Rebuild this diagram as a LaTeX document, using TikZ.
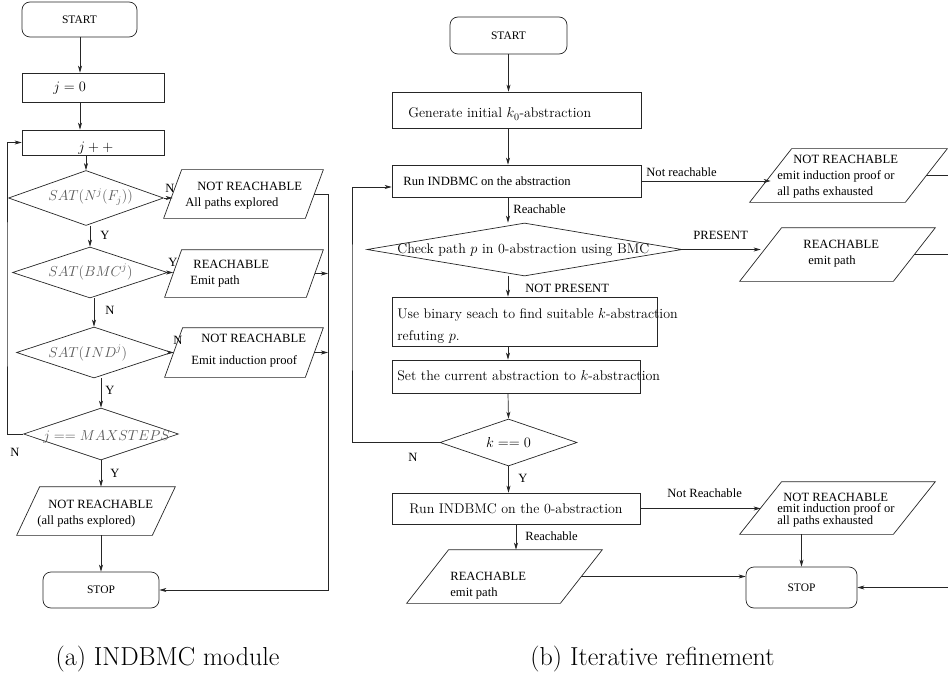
\documentclass[tikz,border=0pt]{standalone}
\usepackage{fontspec}
\newfontfamily\tms{Liberation Serif}
\usetikzlibrary{shapes.geometric,arrows.meta}
\tikzset{
  term/.style={draw, rectangle, rounded corners=8pt, inner sep=0pt, font=\tms\fontsize{11.5}{13}\selectfont},
  proc/.style={draw, rectangle, inner sep=0pt},
  decide/.style={draw, diamond, inner sep=0pt},
  io/.style={rectangle, inner sep=0pt},
  txt/.style={anchor=west, inner sep=0pt, align=left, font=\tms\fontsize{12.6}{16}\selectfont},
  cmt/.style={anchor=west, inner sep=0pt, align=left, font=\fontsize{14}{22}\selectfont},
  mth/.style={anchor=west, inner sep=0pt, text=black!65, font=\fontsize{14.8}{17}\selectfont},
  lbl/.style={inner sep=0pt, font=\tms\fontsize{12.6}{14}\selectfont},
  subcap/.style={inner sep=0pt, font=\fontsize{26}{30}\selectfont}
}
% parallelogram round an io node: name, slant; gives side midpoints name-l and name-r
\newcommand\ioframe[2]{\draw ([xshift=#2]#1.north west) -- (#1.north east) -- ([xshift=-#2]#1.south east) -- (#1.south west) -- cycle;
  \coordinate (#1-l) at ([xshift=#2/2]#1.west); \coordinate (#1-r) at ([xshift=-#2/2]#1.east);}
\begin{document}
\begin{tikzpicture}[x=1pt, y=-1pt, >={Stealth[length=7pt,width=4pt,inset=2pt]}, line width=0.7pt, draw=black!85]
\fill[white] (0,0) rectangle (948,674);
\useasboundingbox (0,0) rectangle (948,674);
% (a)
\node[term, minimum width=115, minimum height=35] (st1) at (79.5,19.5) {START};
\node[proc, minimum width=142, minimum height=29] (j0) at (93,87.5) {};
\node[mth, text=black] (j0t) at (53,88) {$j=0$};
\node[proc, minimum width=142, minimum height=25] (jpp) at (93,142.5) {};
\node[mth, text=black] (jppt) at (78,148) {$j++$};
\node[decide, minimum width=155, minimum height=55] (d1) at (86,198) {};
\node[mth] (d1t) at (48,197) {$SAT(N^j(F_j))$};
\node[decide, minimum width=155, minimum height=51] (d2) at (90,272.5) {};
\node[mth] (d2t) at (48,272) {$SAT(BMC^j)$};
\node[decide, minimum width=155, minimum height=51] (d3) at (94,352.5) {};
\node[mth] (d3t) at (48,353) {$SAT(IND^j)$};
\node[decide, minimum width=155, minimum height=52] (d4) at (101,434) {};
\node[mth] (d4t) at (43,437) {$j == MAXSTEPS$};
\node[io, minimum width=159, minimum height=48] (p1) at (243.5,194) {};
\ioframe{p1}{18pt}
\node[txt] (p1t) at (185,196) {\hspace*{12pt}NOT REACHABLE\\All paths explored};
\node[io, minimum width=158, minimum height=47] (p2) at (244,273.5) {};
\ioframe{p2}{17pt}
\node[txt] (p2t) at (190,274) {\hspace*{3pt}REACHABLE\\Emit path};
\node[io, minimum width=158, minimum height=49] (p3) at (244,352.5) {};
\ioframe{p3}{18pt}
\node[txt] (p3t) at (191,351) {\hspace*{10pt}NOT REACHABLE\\[6pt]Emit induction proof};
\node[io, minimum width=158, minimum height=48] (p4) at (96,511) {};
\ioframe{p4}{23pt}
\node[txt] (p4t) at (37,513.5) {\hspace*{11pt}NOT REACHABLE\\(all paths explored)};
\node[term, minimum width=116, minimum height=36] (sp1) at (101,590) {STOP};
\coordinate (rl) at (328,590);
\coordinate (ll) at (7,300);

\draw[->] (st1.south -| 80,0) -- (j0.north -| 80,0);
\draw[->] (j0.south -| 80,0) -- (jpp.north -| 80,0);
\draw[->] (jpp.south -| d1.north) -- (d1.north);
\draw[->] (d2.north |- d1.south) -- (d2.north);
\draw[->] (d3.north |- d2.south) -- (d3.north);
\draw[->] (d4.north |- d3.south) -- (d4.north);
\draw[->] (d4.south) -- (d4.south |- p4.north);
\draw[->] (sp1.north |- p4.south) -- (sp1.north);
\draw[->] (d1.east) -- (d1.east -| p1-l);
\draw[->] (d2.east) -- (d2.east -| p2-l);
\draw[->] (d3.east) -- (d3.east -| p3-l);
\draw[->] (p1-r) -| (rl) -- (sp1.east);
\draw[->] (p2-r) -- (p2-r -| rl);
\draw[->] (p3-r) -- (p3-r -| rl);
\draw[->] (d4.west) -| (ll) |- (jpp.west);
\node[lbl] (n1) at (170,188) {N};
\node[lbl] (y1) at (105,235) {Y};
\node[lbl] (y2) at (173,262) {Y};
\node[lbl] (n2) at (110,310) {N};
\node[lbl] (n3) at (178,340) {N};
\node[lbl] (y3) at (110,390) {Y};
\node[lbl] (n4) at (15,452) {N};
\node[lbl] (y4) at (115,473) {Y};
\node[subcap] (capa) at (167.5,659) {(a) INDBMC module};
% (b)
\coordinate (col) at (508,0);
\node[term, minimum width=117, minimum height=37] (st2) at (508.5,35.5) {START};
\node[proc, minimum width=249, minimum height=36] (gen) at (516.5,110) {};
\node[cmt] (gent) at (408,114) {Generate initial $k_0$-abstraction};
\node[proc, minimum width=249, minimum height=32] (run) at (516.5,181) {};
\node[txt] (runt) at (403,181) {Run INDBMC on the abstraction};
\node[io, minimum width=197, minimum height=53] (pnr1) at (848.5,175.5) {};
\ioframe{pnr1}{42pt}
\node[txt] (pnr1t) at (777,177) {\hspace*{16pt}NOT REACHABLE\\emit induction proof or\\all paths exhausted};
\node[decide, minimum width=315, minimum height=53] (chk) at (524.5,249.5) {};
\node[cmt] (chkt) at (397,250) {Check path $p$ in 0-abstraction using BMC};
\node[io, minimum width=195, minimum height=53] (prch) at (837.5,254.5) {};
\ioframe{prch}{42pt}
\node[txt] (prcht) at (803,253.5) {REACHABLE\\\hspace*{5pt}emit path};
\node[proc, minimum width=265, minimum height=49] (ubs) at (524.5,321.5) {};
\node[cmt] (ubst) at (397,326) {Use binary seach to find suitable $k$-abstraction\\refuting $p$.};
\node[proc, minimum width=248, minimum height=33] (set) at (516,376.5) {};
\node[cmt] (sett) at (397,376) {Set the current abstraction to $k$-abstraction};
\node[decide, aspect=2.9, minimum width=137, minimum height=47, font=\fontsize{14}{16}\selectfont] (kz) at (508.5,442.5) {$k==0$};
\node[proc, minimum width=248, minimum height=31, font=\fontsize{14}{16}\selectfont] (r0) at (516,508.5) {Run INDBMC on the 0-abstraction};
\node[io, minimum width=195, minimum height=52] (pnr2) at (837.5,508) {};
\ioframe{pnr2}{42pt}
\node[txt, font=\tms\fontsize{12.6}{11}\selectfont] (pnr2t) at (777,510) {\hspace*{6pt}NOT REACHABLE\\emit induction proof or\\all paths exhausted};
\node[io, minimum width=195, minimum height=53] (prch2) at (504.5,576.5) {};
\ioframe{prch2}{42pt}
\node[txt] (prch2t) at (450,586) {REACHABLE\\emit path};
\node[term, minimum width=111, minimum height=41] (sp2) at (801.5,587.5) {STOP};
\coordinate (rr) at (953,587.5);
\coordinate (lr) at (352,300);

\draw[->] (st2.south) -- (st2.south |- gen.north);
\draw[->] (gen.south -| col) -- (run.north -| col);
\draw[->] (run.south -| col) -- (chk.north -| col);
\draw[->] (chk.south -| col) -- (ubs.north -| col);
\draw[->] (ubs.south -| col) -- (set.north -| col);
\draw[->] (set.south -| col) -- (kz.north);
\draw[->] (kz.south) -- (kz.south |- r0.north);
\draw[->] (r0.south) -- (r0.south |- prch2.north);
\draw[->] (run.east) -- (run.east -| pnr1-l);
\draw[->] (chk.east) -- (chk.east -| prch-l);
\draw[->] (r0.east) -- (r0.east -| pnr2-l);
\draw[->] (sp2.north |- pnr2.south) -- (sp2.north);
\draw[->] (prch2-r) -- (prch2-r -| sp2.west);
\draw[->] (pnr1-r) -| (rr) -- (sp2.east);
\draw (prch-r) -- (prch-r -| rr);
\draw[->] (kz.west) -| (lr) |- ([yshift=-6pt]run.west);
\node[lbl, anchor=west] (lnr1) at (646,172) {Not reachable};
\node[lbl, anchor=west] (lr1) at (513,209) {Reachable};
\node[lbl, anchor=west] (lpr) at (693,235) {PRESENT};
\node[lbl, anchor=west] (lnp) at (525,288) {NOT PRESENT};
\node[lbl] (ln) at (413,457) {N};
\node[lbl] (ly) at (523,478) {Y};
\node[lbl, anchor=west] (lnr2) at (667,493) {Not Reachable};
\node[lbl, anchor=west] (lr2) at (525,536) {Reachable};
\node[subcap] (capb) at (652.5,659) {(b) Iterative refinement};
\end{tikzpicture}
\end{document}
